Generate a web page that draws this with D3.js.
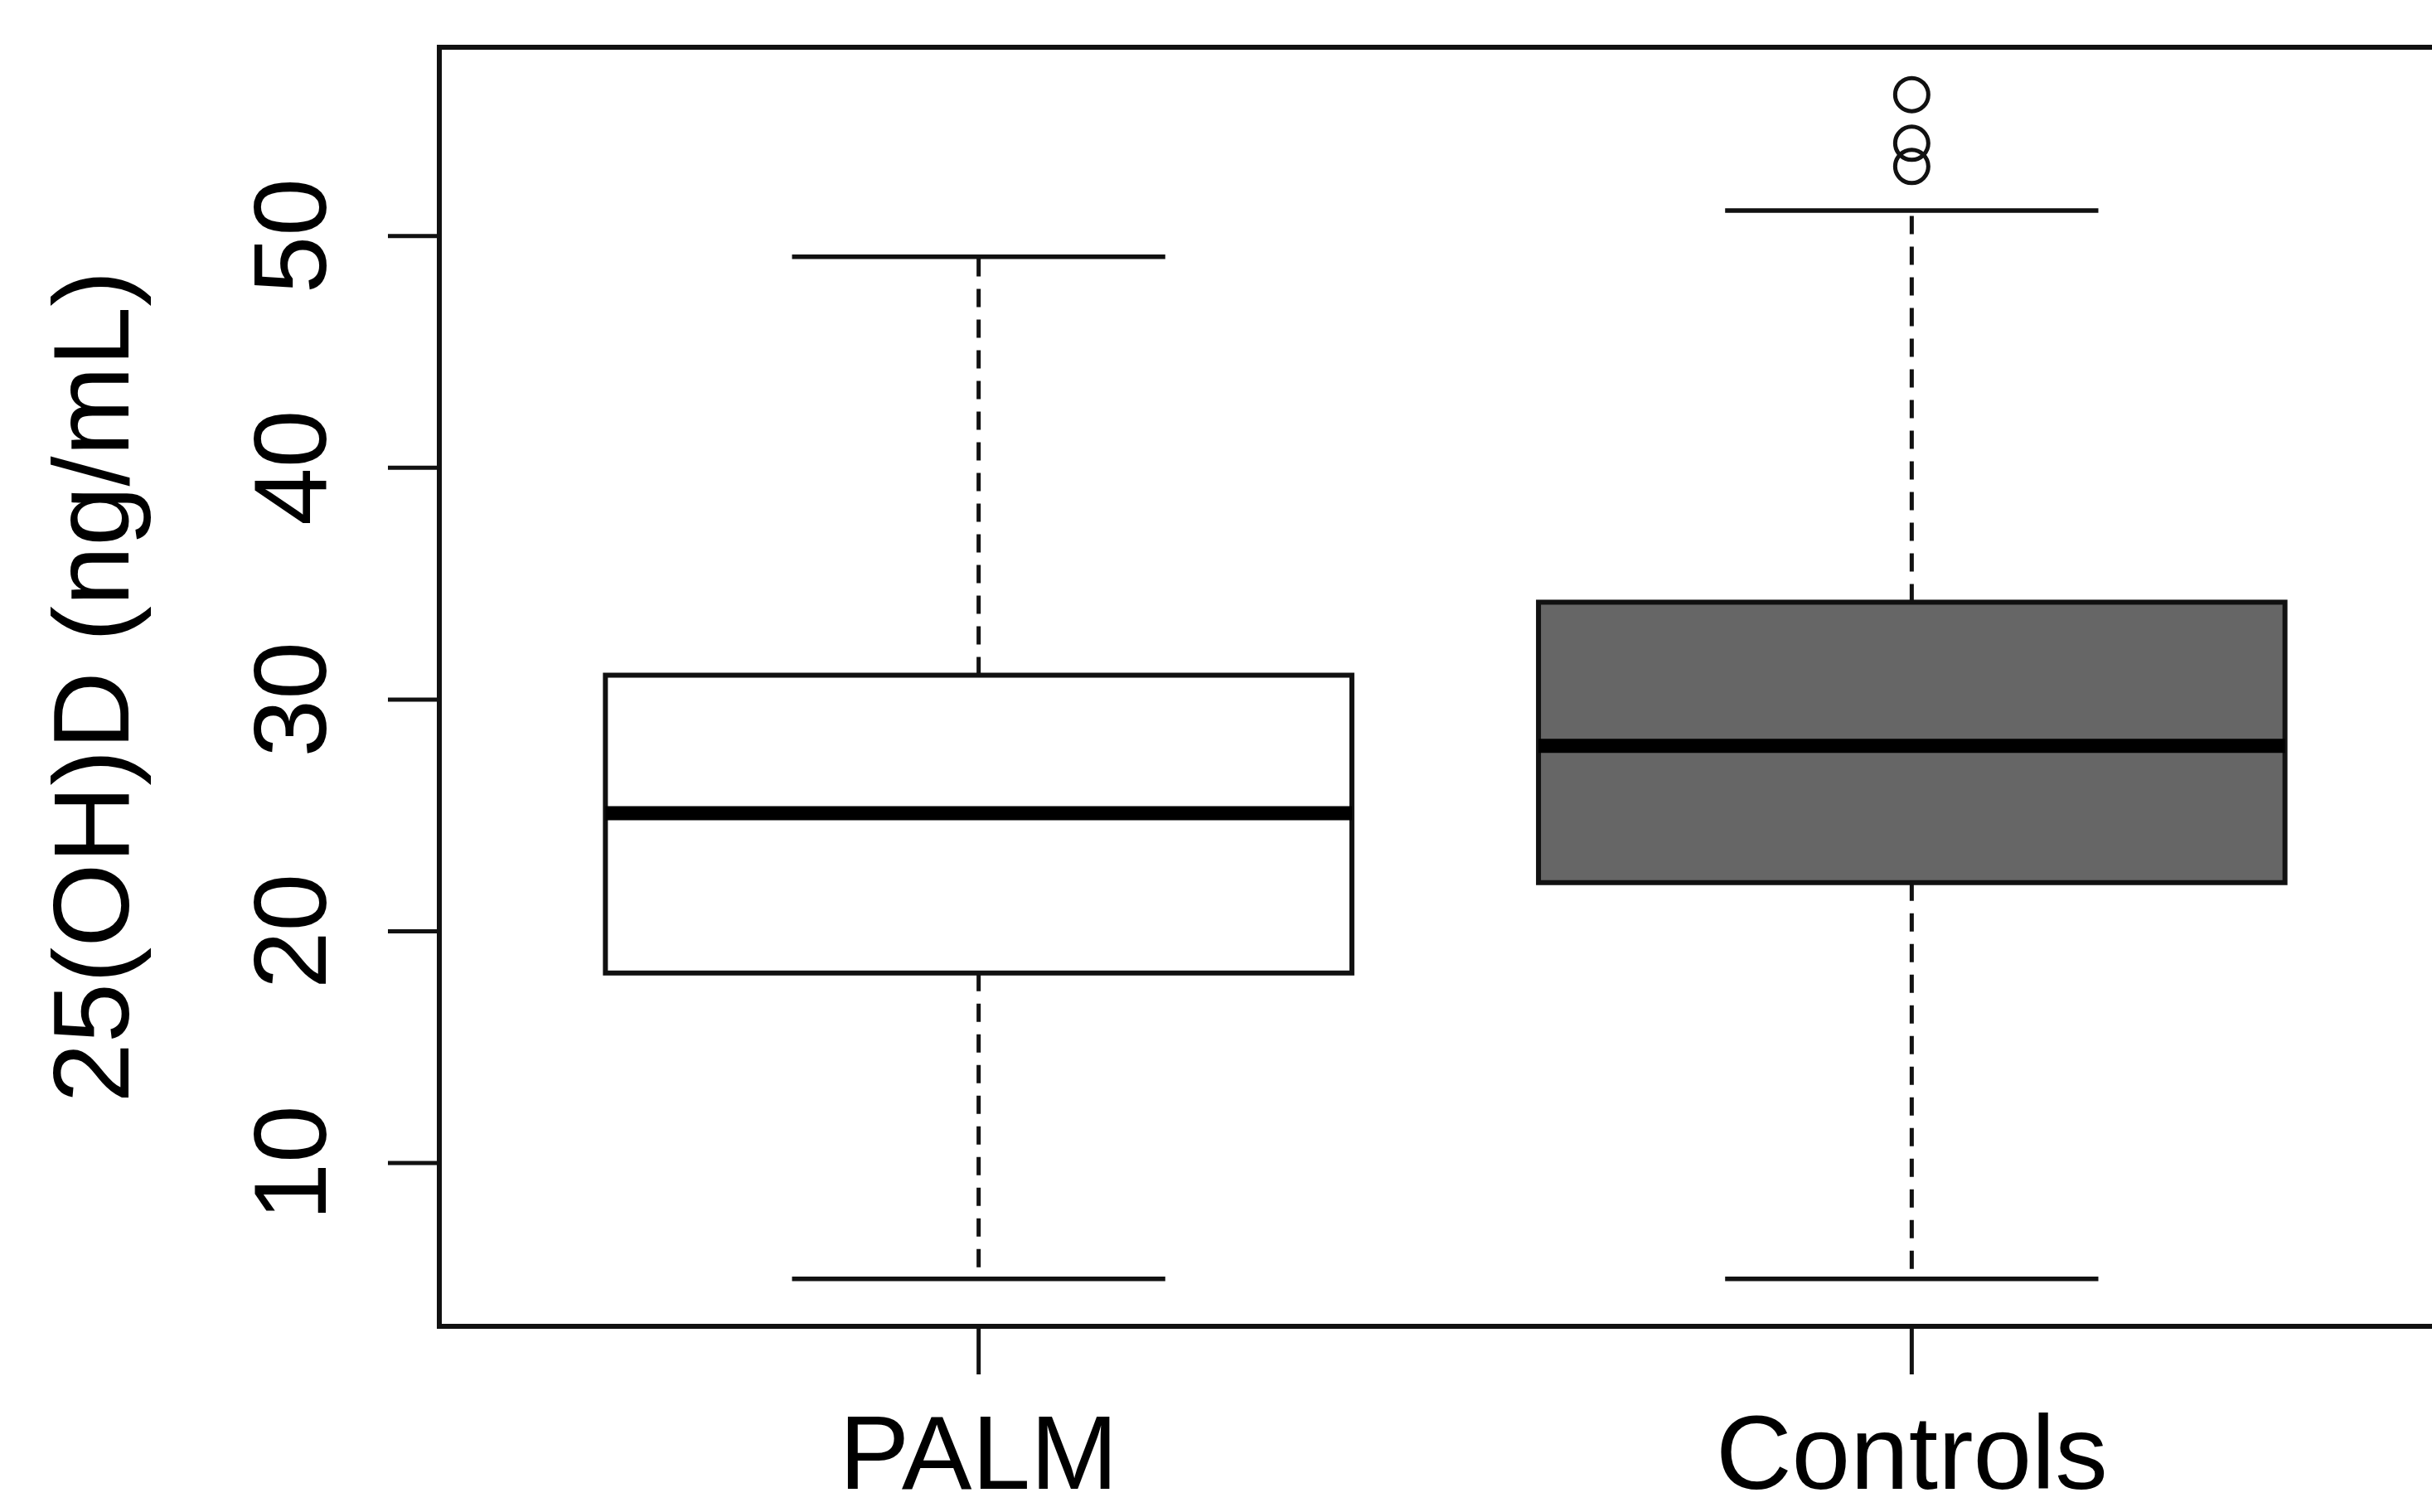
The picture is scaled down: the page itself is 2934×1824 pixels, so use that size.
<!DOCTYPE html>
<html>
<head>
<meta charset="utf-8">
<script src="https://cdn.jsdelivr.net/npm/d3@7"></script>
<style>
  html, body { margin: 0; padding: 0; background: #fff; }
  svg { display: block; }
  text { font-family: "Liberation Sans", Arial, sans-serif; fill: #000; }
</style>
</head>
<body>
<svg id="chart" width="2934" height="1824"></svg>
<script>
// ---- data ----
const categories = ["PALM", "Controls"];
const whiskerLow  = [5, 5];
const q1          = [18.2, 22.1];
const medians     = [25.1, 28];
const q3          = [31.05, 34.2];
const whiskerHigh = [49.1, 51.1];
const outliers    = [[], [53, 54, 56.1]];
const boxFills    = ["#ffffff", "#666666"];
const yTicks      = [10, 20, 30, 40, 50];
const yLabel      = "25(OH)D (ng/mL)";

// ---- layout ----
const plotLeft = 530, plotTop = 57, plotBottom = 1600, plotRight = 2957;
const svg = d3.select("#chart");

// y range like R: data range extended by 4%
const allVals = whiskerLow.concat(whiskerHigh, outliers.flat());
const dMin = d3.min(allVals), dMax = d3.max(allVals);
const pad = (dMax - dMin) * 0.04;
const y = d3.scaleLinear().domain([dMin - pad, dMax + pad]).range([plotBottom, plotTop]);

// x: group positions 1..n; frame extends beyond right edge (cropped)
const x = d3.scaleLinear().domain([0.422, 2.578]).range([plotLeft, plotRight]);
const boxHalf = 0.4, capHalf = 0.2;

const g = svg.append("g");
const stroke = "#111";

categories.forEach((c, i) => {
  const cx = x(i + 1);
  const bl = x(i + 1 - boxHalf), br = x(i + 1 + boxHalf);
  const cl = x(i + 1 - capHalf), cr = x(i + 1 + capHalf);

  // whiskers (dashed)
  g.append("line").attr("x1", cx).attr("x2", cx)
    .attr("y1", y(q3[i])).attr("y2", y(whiskerHigh[i]))
    .attr("stroke", stroke).attr("stroke-width", 5).attr("stroke-dasharray", "22,15");
  g.append("line").attr("x1", cx).attr("x2", cx)
    .attr("y1", y(q1[i])).attr("y2", y(whiskerLow[i]))
    .attr("stroke", stroke).attr("stroke-width", 5).attr("stroke-dasharray", "22,15");
  // caps
  [whiskerHigh[i], whiskerLow[i]].forEach(v => {
    g.append("line").attr("x1", cl).attr("x2", cr)
      .attr("y1", y(v)).attr("y2", y(v))
      .attr("stroke", stroke).attr("stroke-width", 5.5);
  });
  // box
  g.append("rect").attr("x", bl).attr("width", br - bl)
    .attr("y", y(q3[i])).attr("height", y(q1[i]) - y(q3[i]))
    .attr("fill", boxFills[i]).attr("stroke", stroke).attr("stroke-width", 6);
  // median
  g.append("line").attr("x1", bl).attr("x2", br)
    .attr("y1", y(medians[i])).attr("y2", y(medians[i]))
    .attr("stroke", "#000").attr("stroke-width", 17);
  // outliers
  outliers[i].forEach(v => {
    g.append("circle").attr("cx", cx).attr("cy", y(v)).attr("r", 20)
      .attr("fill", "none").attr("stroke", stroke).attr("stroke-width", 5);
  });
});

// frame
svg.append("rect").attr("x", plotLeft).attr("y", plotTop)
  .attr("width", plotRight - plotLeft).attr("height", plotBottom - plotTop)
  .attr("fill", "none").attr("stroke", stroke).attr("stroke-width", 6);

// y axis ticks & labels
const fs = 125;
yTicks.forEach(t => {
  svg.append("line").attr("x1", plotLeft - 62).attr("x2", plotLeft)
    .attr("y1", y(t)).attr("y2", y(t))
    .attr("stroke", stroke).attr("stroke-width", 5);
  svg.append("text")
    .attr("transform", `translate(393,${y(t)}) rotate(-90)`)
    .attr("text-anchor", "middle")
    .attr("font-size", fs)
    .text(t);
});

// x axis ticks & labels
categories.forEach((c, i) => {
  const cx = x(i + 1);
  svg.append("line").attr("x1", cx).attr("x2", cx)
    .attr("y1", plotBottom).attr("y2", plotBottom + 58)
    .attr("stroke", stroke).attr("stroke-width", 5);
  svg.append("text")
    .attr("x", cx).attr("y", 1796)
    .attr("text-anchor", "middle")
    .attr("font-size", fs + 2)
    .text(c);
});

// y axis title
svg.append("text")
  .attr("transform", `translate(155,${(plotTop + plotBottom) / 2}) rotate(-90)`)
  .attr("text-anchor", "middle")
  .attr("font-size", fs + 5)
  .text(yLabel);
</script>
</body>
</html>
